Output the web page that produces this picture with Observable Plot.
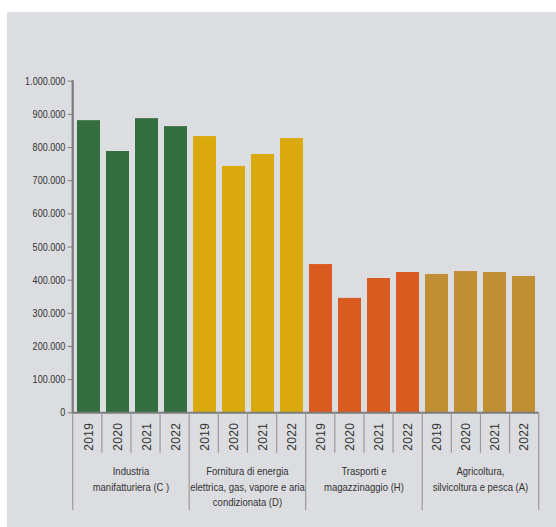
<!DOCTYPE html>
<html>
<head>
<meta charset="utf-8">
<script src="https://cdn.jsdelivr.net/npm/d3@7"></script>
<script src="https://cdn.jsdelivr.net/npm/@observablehq/plot@0.6"></script>
<style>
  html, body { margin: 0; padding: 0; background: #ffffff; }
  #wrap { position: relative; width: 556px; height: 527px; overflow: hidden; }
  #panel { position: absolute; left: 7px; top: 12px; right: 0; bottom: 0; background: #dcdde0; }
  #chart { position: absolute; left: 0; top: 0; }
</style>
</head>
<body>
<div id="wrap"><div id="panel"></div><div id="chart"></div></div>
<script>
// ---- data ----
const groupLabels = [
  "Industria\nmanifatturiera (C )",
  "Fornitura di energia\nelettrica, gas, vapore e aria\ncondizionata (D)",
  "Trasporti e\nmagazzinaggio (H)",
  "Agricoltura,\nsilvicoltura e pesca (A)"
];
const years = ["2019", "2020", "2021", "2022"];
const industria   = [881000, 788000, 887000, 863000];
const energia     = [833000, 743000, 779000, 827000];
const trasporti   = [447000, 345000, 405000, 423000];
const agricoltura = [417000, 426000, 423000, 411000];
const seriesValues = [industria, energia, trasporti, agricoltura];
const yTicks = [0, 100000, 200000, 300000, 400000, 500000, 600000, 700000, 800000, 900000, 1000000];
const palette = ["#356e3e", "#d9a90e", "#da5b20", "#bf8f33"];

// ---- table ----
const rows = [];
groupLabels.forEach((g, gi) => {
  years.forEach((yr, yi) => {
    rows.push({group: g, gi, year: yr, key: gi + "|" + yr, value: seriesValues[gi][yi]});
  });
});

const it = d3.formatLocale({decimal: ",", thousands: ".", grouping: [3], currency: ["", "€"]});
const fmt = it.format(",");
const FONT = "'Liberation Sans', Arial, sans-serif";
const NARROW = 0.82;

const chart = Plot.plot({
  width: 556,
  height: 527,
  marginLeft: 72.7,
  marginRight: 17.3,
  marginTop: 80.7,
  marginBottom: 114.7,
  style: {
    fontFamily: FONT,
    fontSize: "11px",
    color: "#333333",
    background: "transparent",
    overflow: "visible"
  },
  x: {
    domain: rows.map(d => d.key),
    paddingInner: 0.2,
    paddingOuter: 0.1,
    tickFormat: k => k.split("|")[1],
    tickRotate: -90,
    tickSize: 0,
    tickPadding: 10,
    label: null
  },
  y: {
    domain: [0, 1000000],
    ticks: yTicks,
    tickFormat: fmt,
    tickSize: 5,
    tickPadding: 3,
    label: null
  },
  color: {domain: groupLabels, range: palette},
  marks: [
    Plot.barY(rows, {x: "key", y: "value", fill: "group"}),
    Plot.ruleY([0], {stroke: "#7b7b7b", strokeWidth: 2})
  ]
});

document.getElementById("chart").appendChild(chart);

// ---- hierarchical axis decoration, placed with Plot's own scales ----
const svg = d3.select(chart.tagName.toLowerCase() === "svg" ? chart : chart.querySelector("svg"));
const xs = chart.scale("x"), ys = chart.scale("y");
const band = d3.scaleBand()
  .domain(xs.domain)
  .range(xs.range)
  .paddingInner(xs.paddingInner ?? xs.padding ?? 0.2)
  .paddingOuter(xs.paddingOuter ?? xs.padding ?? 0.1)
  .align(xs.align ?? 0.5);
const y = d3.scaleLinear().domain(ys.domain).range(ys.range);
const step = band.step(), bw = band.bandwidth();
const bStart = k => band(k) - (step - bw) / 2;
const bEnd = k => band(k) + bw + (step - bw) / 2;
const y0 = y(0), yTop = y(1000000);

// y axis: grey ticks, narrow (condensed) labels scaled about their right edge
svg.selectAll('g[aria-label^="y-axis"] line, g[aria-label^="y-axis"] path').attr("stroke", "#7b7b7b");
svg.selectAll('g[aria-label^="y-axis"] text').each(function() {
  const bb = this.getBBox();
  const r = bb.x + bb.width;
  const tr = this.getAttribute("transform") || "";
  this.setAttribute("transform", `${tr} translate(${r},0) scale(${NARROW},1) translate(${-r},0)`);
  this.setAttribute("font-size", "11px");
  this.setAttribute("fill", "#333");
});
svg.selectAll('g[aria-label^="x-axis"] text')
  .attr("font-family", FONT)
  .attr("font-size", "12px")
  .attr("letter-spacing", "0.3px")
  .attr("fill", "#333");

const deco = svg.append("g").attr("class", "deco");
const sepLen = 40.5, groupLen = 97.7;
const sepColor = "#9a9a9a";
groupLabels.forEach((g, gi) => {
  const keys = years.map(yr => gi + "|" + yr);
  const x0 = bStart(keys[0]), x1 = bEnd(keys[keys.length - 1]);
  deco.append("line").attr("x1", x0).attr("x2", x0).attr("y1", y0).attr("y2", y0 + groupLen)
    .attr("stroke", sepColor).attr("stroke-width", 1.2);
  keys.slice(1).forEach(k => {
    const xx = bStart(k);
    deco.append("line").attr("x1", xx).attr("x2", xx).attr("y1", y0).attr("y2", y0 + sepLen)
      .attr("stroke", sepColor).attr("stroke-width", 1.2);
  });
  if (gi === groupLabels.length - 1) {
    deco.append("line").attr("x1", x1).attr("x2", x1).attr("y1", y0).attr("y2", y0 + groupLen)
      .attr("stroke", sepColor).attr("stroke-width", 1.2);
  }
  const gt = deco.append("g")
    .attr("transform", `translate(${(x0 + x1) / 2},${y0}) scale(${NARROW},1)`);
  const t = gt.append("text")
    .attr("text-anchor", "middle")
    .attr("font-family", FONT)
    .attr("font-size", "11.6px")
    .attr("fill", "#333");
  g.split("\n").forEach((line, li) => {
    t.append("tspan").attr("x", 0).attr("y", 62.7 + li * 15.6).text(line);
  });
});
// y axis line
const xl = xs.range[0];
deco.append("line").attr("x1", xl).attr("x2", xl).attr("y1", yTop - 0.5).attr("y2", y0 + 1)
  .attr("stroke", "#7b7b7b").attr("stroke-width", 2.2);
</script>
</body>
</html>
